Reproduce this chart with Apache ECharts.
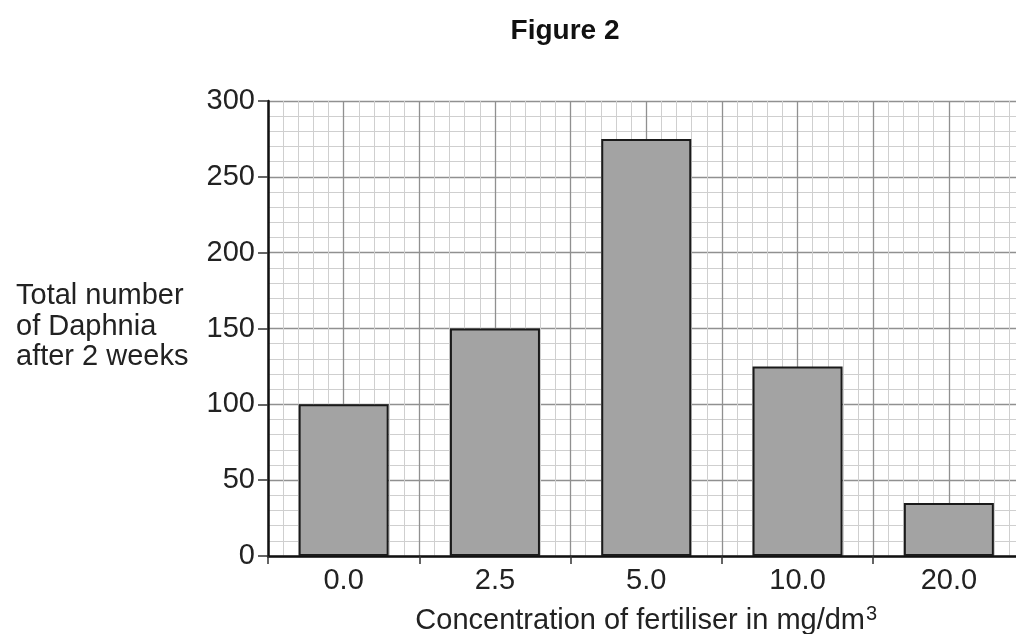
<!DOCTYPE html>
<html>
<head>
<meta charset="utf-8">
<script src="https://cdn.jsdelivr.net/npm/echarts@6/dist/echarts.min.js"></script>
<style>
html,body{margin:0;padding:0;background:#fff;}
#chart{width:1016px;height:634px;}
</style>
</head>
<body>
<div id="chart"></div>
<script>
const categories = ['0.0', '2.5', '5.0', '10.0', '20.0'];
const daphnia = [100, 150, 275, 125, 35];
const yTicks = [0, 50, 100, 150, 200, 250, 300];
const chartTitle = 'Figure 2';
const yTitle = 'Total number\nof Daphnia\nafter 2 weeks';
const xTitle = 'Concentration of fertiliser in mg/dm';
const xTitleSup = '3';

const FONT = '"Liberation Sans", Arial, sans-serif';
const chart = echarts.init(document.getElementById('chart'));
chart.setOption({
  animation: false,
  backgroundColor: '#fff',
  title: [
    { text: chartTitle, left: 560, top: 12, textAlign: 'center',
      textStyle: { fontFamily: FONT, fontSize: 28, fontWeight: 'bold', color: '#111' } },
    { text: yTitle, left: 11, top: 276,
      textStyle: { fontFamily: FONT, fontSize: 29, fontWeight: 'normal', color: '#222', lineHeight: 30.5 } }
  ],
  grid: { left: 268, top: 101, width: 756.5, height: 455, containLabel: false, outerBoundsMode: 'none' },
  xAxis: [
    {
      type: 'category', data: categories, position: 'bottom',
      axisLine: { show: true, lineStyle: { color: '#111', width: 2.5 } },
      axisTick: { show: true, alignWithLabel: false, length: 8, lineStyle: { color: '#333', width: 1.5 } },
      axisLabel: { fontFamily: FONT, fontSize: 29, color: '#222', margin: 10 },
      splitLine: { show: false },
      name: xTitle + '{sup|' + xTitleSup + '}', nameLocation: 'middle', nameGap: 48,
      nameTextStyle: { fontFamily: FONT, fontSize: 29, color: '#222',
        rich: { sup: { fontFamily: FONT, fontSize: 20, color: '#222', verticalAlign: 'top', padding: [0, 0, 13, 1] } } }
    },
    {
      type: 'value', min: 0, max: 50, interval: 5, position: 'bottom',
      axisLine: { show: false }, axisTick: { show: false }, axisLabel: { show: false },
      splitLine: { show: true, lineStyle: { color: '#909090', width: 1.3 } },
      minorTick: { show: false, splitNumber: 5 },
      minorSplitLine: { show: true, lineStyle: { color: '#cfcfcf', width: 1 } }
    }
  ],
  yAxis: {
    type: 'value', min: yTicks[0], max: yTicks[yTicks.length - 1], interval: 50,
    axisLine: { show: true, lineStyle: { color: '#111', width: 2.5 } },
    axisTick: { show: true, length: 10, lineStyle: { color: '#333', width: 1.5 } },
    axisLabel: { fontFamily: FONT, fontSize: 29, color: '#222', margin: 13 },
    splitLine: { show: true, lineStyle: { color: '#909090', width: 1.3 } },
    minorTick: { show: false, splitNumber: 5 },
    minorSplitLine: { show: true, lineStyle: { color: '#cfcfcf', width: 1 } }
  },
  series: [{
    type: 'bar', xAxisIndex: 0, yAxisIndex: 0, data: daphnia,
    barWidth: '59.5%',
    itemStyle: { color: '#a3a3a3', borderColor: '#1a1a1a', borderWidth: 2 },
    z: 3
  }]
});
</script>
</body>
</html>
